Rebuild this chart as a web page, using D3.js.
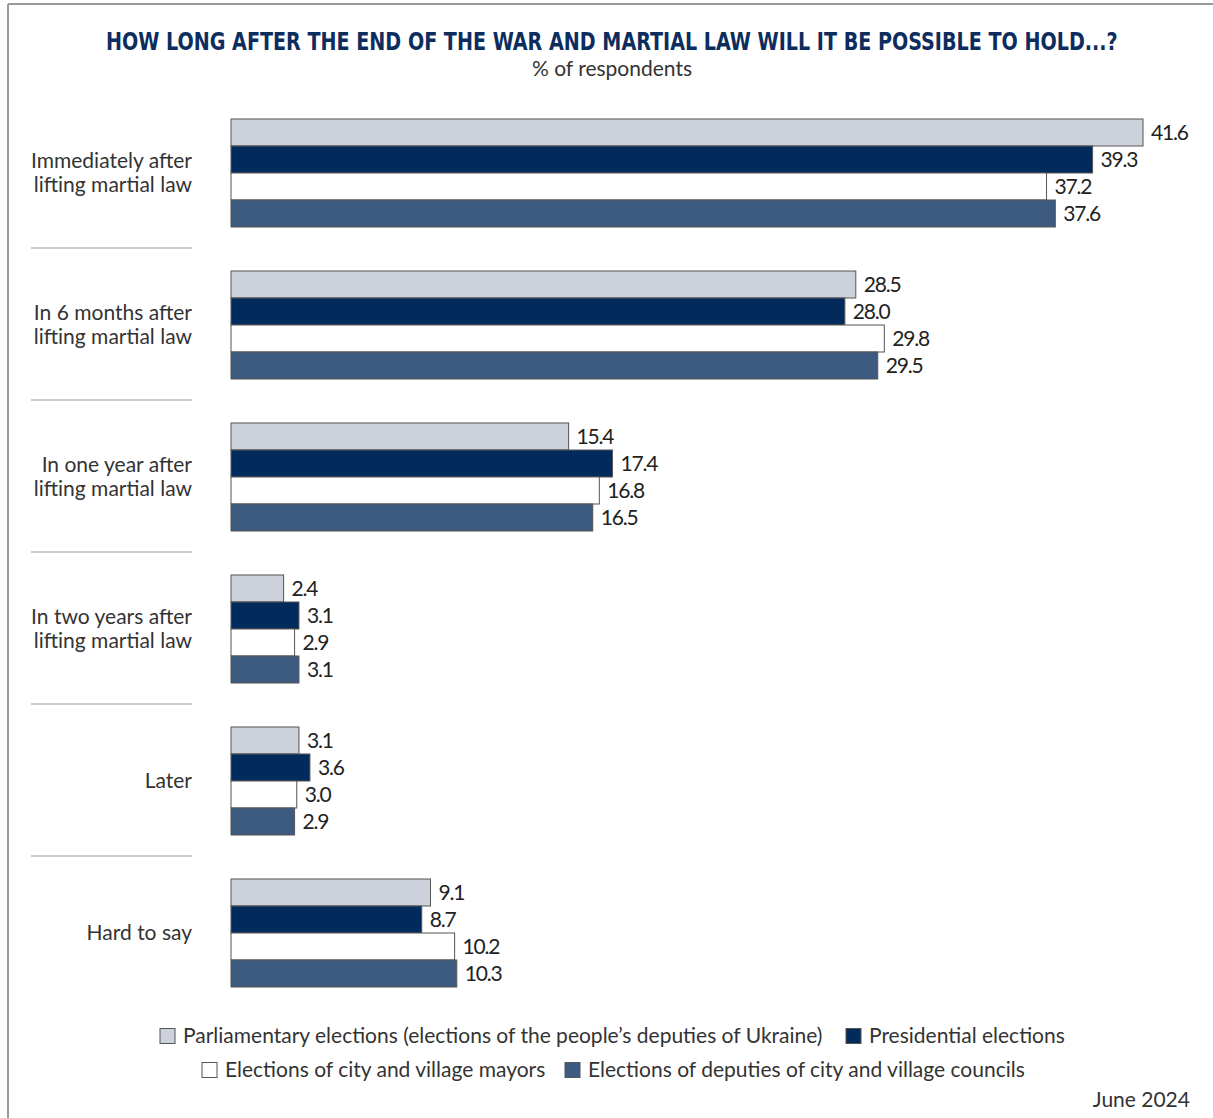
<!DOCTYPE html>
<html>
<head>
<meta charset="utf-8">
<script src="https://cdn.jsdelivr.net/npm/d3@7/dist/d3.min.js"></script>
<style>
  html, body { margin: 0; padding: 0; background: #fff; }
  svg text { font-family: "Lato", "Open Sans", sans-serif; }
</style>
</head>
<body>
<svg id="chart" width="1213" height="1118"></svg>
<script>
// Answer categories (two-line labels)
const categories = [
  ["Immediately after", "lifting martial law"],
  ["In 6 months after", "lifting martial law"],
  ["In one year after", "lifting martial law"],
  ["In two years after", "lifting martial law"],
  ["Later"],
  ["Hard to say"]
];

// Election types
const seriesNames = [
  "Parliamentary elections (elections of the people\u2019s deputies of Ukraine)",
  "Presidential elections",
  "Elections of city and village mayors",
  "Elections of deputies of city and village councils"
];
const seriesColors = ["#cdd1dc", "#002b5c", "#ffffff", "#3d5a80"];

// Values, % of respondents
const parliamentary = [41.6, 28.5, 15.4, 2.4, 3.1, 9.1];
const presidential  = [39.3, 28.0, 17.4, 3.1, 3.6, 8.7];
const mayors        = [37.2, 29.8, 16.8, 2.9, 3.0, 10.2];
const councils      = [37.6, 29.5, 16.5, 3.1, 2.9, 10.3];
const seriesValues = [parliamentary, presidential, mayors, councils];

const svg = d3.select("#chart");

// Frame lines (top and left)
svg.append("line").attr("x1", 8).attr("x2", 1213).attr("y1", 4).attr("y2", 4)
  .attr("stroke", "#9a9a9a").attr("stroke-width", 2);
svg.append("line").attr("x1", 8).attr("x2", 8).attr("y1", 4).attr("y2", 1118)
  .attr("stroke", "#9a9a9a").attr("stroke-width", 2);

// Title: tall condensed caps, squeezed horizontally to a fixed width
const titleWidth = 1012;
const titleG = svg.append("g");
const title = titleG.append("text")
  .attr("x", 0).attr("y", 0)
  .style("font-family", "'DejaVu Sans Condensed', 'DejaVu Sans', sans-serif")
  .style("font-weight", "bold")
  .style("font-size", "25px")
  .attr("fill", "#0d2d5e")
  .text("HOW LONG AFTER THE END OF THE WAR AND MARTIAL LAW WILL IT BE POSSIBLE TO HOLD...?");
const natural = title.node().getComputedTextLength();
const sx = Math.min(1, titleWidth / natural);
titleG.attr("transform", `translate(${612 - natural * sx / 2},50) scale(${sx},1)`);

svg.append("text")
  .attr("x", 612).attr("y", 76)
  .attr("text-anchor", "middle")
  .style("font-size", "21px")
  .attr("fill", "#333")
  .text("% of respondents");

// Scales
const x = d3.scaleLinear().domain([0, 41.6]).range([231, 1143]);
const y = d3.scaleBand().domain(d3.range(categories.length)).range([119, 119 + 152 * 6]).paddingInner(0).paddingOuter(0);
const groupH = 108;
const yInner = d3.scaleBand().domain(d3.range(seriesNames.length)).range([0, groupH]);

const groups = svg.append("g").selectAll("g")
  .data(categories)
  .join("g")
  .attr("transform", (d, i) => `translate(0,${y(i)})`);

// Bars with value labels
groups.each(function(cat, ci) {
  const g = d3.select(this);
  seriesValues.forEach((vals, si) => {
    g.append("rect")
      .attr("x", x(0))
      .attr("y", yInner(si))
      .attr("width", x(vals[ci]) - x(0))
      .attr("height", yInner.bandwidth())
      .attr("fill", seriesColors[si])
      .attr("stroke", "#555")
      .attr("stroke-width", 1);
    g.append("text")
      .attr("x", x(vals[ci]) + 8)
      .attr("y", yInner(si) + yInner.bandwidth() / 2)
      .attr("dy", "0.35em")
      .style("font-size", "21px")
      .style("letter-spacing", "-1.2px")
      .attr("fill", "#222")
      .text(vals[ci].toFixed(1));
  });

  // Category label, right-aligned
  const lines = cat;
  const lh = 24;
  const t = g.append("text")
    .attr("text-anchor", "end")
    .style("font-size", "21px")
    .attr("fill", "#333");
  lines.forEach((ln, li) => {
    t.append("tspan")
      .attr("x", 192)
      .attr("y", groupH / 2 + (li - (lines.length - 1) / 2) * lh)
      .attr("dy", "0.35em")
      .text(ln);
  });

  // Separator below the group
  if (ci < categories.length - 1) {
    g.append("line")
      .attr("x1", 31).attr("x2", 192)
      .attr("y1", groupH + 21).attr("y2", groupH + 21)
      .attr("stroke", "#999").attr("stroke-width", 1);
  }
});

// Legend
const legendItems = [
  { s: 0, x: 160, y: 1036 },
  { s: 1, x: 846, y: 1036 },
  { s: 2, x: 202, y: 1070 },
  { s: 3, x: 565, y: 1070 }
];
const legend = svg.append("g");
legendItems.forEach(it => {
  legend.append("rect")
    .attr("x", it.x).attr("y", it.y - 7.5)
    .attr("width", 15).attr("height", 15)
    .attr("fill", seriesColors[it.s])
    .attr("stroke", "#555").attr("stroke-width", 1);
  legend.append("text")
    .attr("x", it.x + 23).attr("y", it.y)
    .attr("dy", "0.35em")
    .style("font-size", "21px")
    .attr("fill", "#333")
    .text(seriesNames[it.s]);
});

// Date note
svg.append("text")
  .attr("x", 1190).attr("y", 1107)
  .attr("text-anchor", "end")
  .style("font-size", "21px")
  .attr("fill", "#333")
  .text("June 2024");
</script>
</body>
</html>
